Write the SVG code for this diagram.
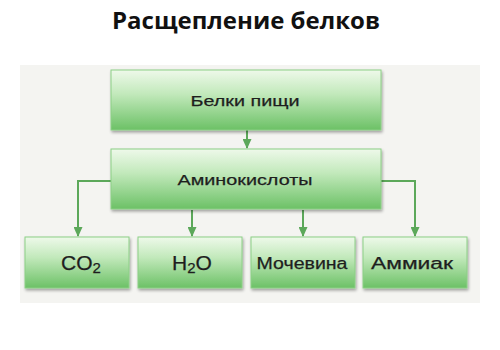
<svg xmlns="http://www.w3.org/2000/svg" width="500" height="350" viewBox="0 0 500 350">
<defs>
<linearGradient id="g" x1="0" y1="0" x2="0" y2="1">
<stop offset="0" stop-color="#eef9ea"/>
<stop offset="0.4" stop-color="#c2e9bb"/>
<stop offset="1" stop-color="#6cc166"/>
</linearGradient>
<filter id="sh" x="-10%" y="-10%" width="125%" height="140%">
<feGaussianBlur in="SourceAlpha" stdDeviation="1.5"/>
<feOffset dx="1" dy="2" result="b"/>
<feComponentTransfer><feFuncA type="linear" slope="0.35"/></feComponentTransfer>
<feMerge><feMergeNode/><feMergeNode in="SourceGraphic"/></feMerge>
</filter>
<marker id="ah" markerWidth="10" markerHeight="9" refX="9" refY="4.5" orient="auto" markerUnits="userSpaceOnUse">
<path d="M0,0 L10,4.5 L0,9 z" fill="#5ca85a"/>
</marker>
</defs>
<style>
.box{fill:url(#g);stroke:#8ccf86;stroke-width:1;filter:url(#sh)}
.lbl{font-family:"Liberation Sans",Arial,sans-serif;fill:#1e1e1e;text-anchor:middle;stroke:#1e1e1e;stroke-width:0.25}
.con{fill:none;stroke:#5ca85a;stroke-width:2;marker-end:url(#ah)}
</style>
<rect width="500" height="350" fill="#ffffff"/>
<rect x="20" y="65" width="460" height="238" fill="#f4f4f1"/>
<text x="246" y="29" font-family="'Open Sans','DejaVu Sans',sans-serif" font-weight="bold" font-size="23" fill="#111" text-anchor="middle" textLength="268" lengthAdjust="spacingAndGlyphs">Расщепление белков</text>
<g id="connectors">
<path class="con" d="M247,130 V148"/>
<path class="con" d="M111,181 H78 V236"/>
<path class="con" d="M192,210 V236"/>
<path class="con" d="M303,210 V236"/>
<path class="con" d="M381,181 H415 V236"/>
</g>
<g id="belki">
<rect class="box" x="111" y="70" width="270" height="60"/>
<text class="lbl" x="245" y="106" font-size="15" textLength="109" lengthAdjust="spacingAndGlyphs">Белки пищи</text>
</g>
<g id="amino">
<rect class="box" x="111" y="149" width="270" height="60"/>
<text class="lbl" x="245" y="185" font-size="15" textLength="135" lengthAdjust="spacingAndGlyphs">Аминокислоты</text>
</g>
<g id="co2">
<rect class="box" x="25" y="237" width="104" height="51"/>
<text class="lbl" x="81" y="270" font-size="21">CO<tspan font-size="15" dy="3">2</tspan></text>
</g>
<g id="h2o">
<rect class="box" x="138" y="237" width="104" height="51"/>
<text class="lbl" x="192" y="270" font-size="21">H<tspan font-size="15" dy="3">2</tspan><tspan dy="-3">O</tspan></text>
</g>
<g id="mochevina">
<rect class="box" x="251" y="237" width="104" height="51"/>
<text class="lbl" x="302" y="269" font-size="16" textLength="91" lengthAdjust="spacingAndGlyphs">Мочевина</text>
</g>
<g id="ammiak">
<rect class="box" x="363" y="237" width="104" height="51"/>
<text class="lbl" x="412" y="269" font-size="16" textLength="82" lengthAdjust="spacingAndGlyphs">Аммиак</text>
</g>
</svg>
